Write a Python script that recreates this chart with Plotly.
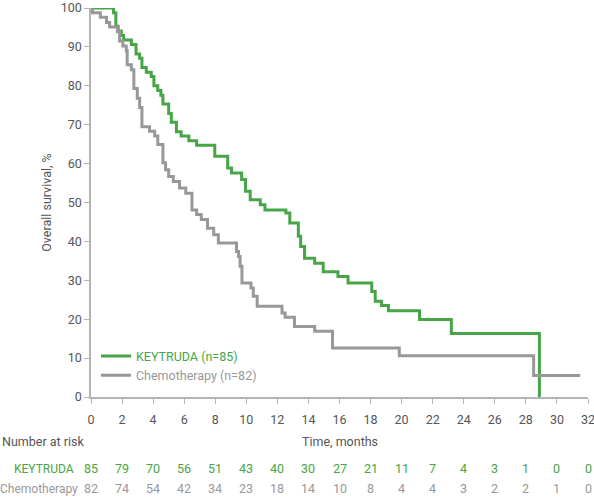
import plotly.graph_objs as go

# Kaplan-Meier curves (months, % alive)
keytruda_t = [0, 1.45, 1.6, 1.75, 1.95, 2.1, 2.6, 2.9, 3.13, 3.28, 3.56, 3.88, 4.05, 4.3,
              4.5, 4.63, 5.0, 5.17, 5.5, 5.8, 6.3, 6.8, 7.97, 8.8, 9.05, 9.7, 9.95, 10.25,
              10.9, 11.2, 12.55, 12.8, 13.35, 13.5, 13.75, 14.4, 14.95, 15.9, 16.55, 18.08,
              18.3, 18.7, 19.15, 21.15, 23.2, 28.87, 28.87]
keytruda_s = [100, 98.8, 95.3, 94.1, 92.9, 91.8, 90.6, 88.2, 87.1, 84.7, 83.5, 82.4, 80.0, 78.8,
              77.6, 75.3, 72.9, 70.6, 68.2, 67.1, 65.9, 64.7, 61.9, 58.9, 57.6, 55.9, 52.9, 50.7,
              49.4, 48.1, 47.3, 44.7, 41.3, 38.7, 35.7, 34.4, 32.2, 31.0, 29.3, 27.1,
              24.6, 23.5, 22.2, 19.9, 16.3, 16.3, 0]

chemo_t = [0, 0.1, 0.6, 1.0, 1.2, 1.7, 1.84, 2.05, 2.27, 2.33, 2.6, 2.76, 2.98, 3.13, 3.28,
           3.77, 4.1, 4.3, 4.63, 4.8, 5.0, 5.3, 5.7, 6.1, 6.5, 6.8, 7.1, 7.5, 7.9, 8.2, 9.37,
           9.5, 9.6, 9.72, 10.3, 10.45, 10.7, 12.3, 12.5, 13.1, 14.4, 15.55, 19.85, 28.5, 31.5]
chemo_s = [100, 98.8, 97.6, 96.3, 95.1, 93.9, 91.5, 90.2, 89.0, 85.4, 84.1, 79.3, 76.8, 74.4, 69.5,
           68.3, 67.1, 64.9, 60.2, 58.4, 56.7, 55.4, 53.7, 52.4, 48.1, 46.9, 45.6, 43.4, 41.7, 39.6, 37.4,
           36.1, 33.6, 29.3, 28.0, 25.9, 23.3, 21.6, 20.5, 18.1, 16.9, 12.6, 10.6, 5.5, 5.5]

risk_times = list(range(0, 33, 2))
keytruda_risk = [85, 79, 70, 56, 51, 43, 40, 30, 27, 21, 11, 7, 4, 3, 1, 0, 0]
chemo_risk = [82, 74, 54, 42, 34, 23, 18, 14, 10, 8, 4, 4, 3, 2, 2, 1, 0]

GREEN = "#46a546"
GREY = "#98989a"
TEXT = "#555555"
FONT = "Roboto, sans-serif"


def main():
    fig = go.Figure()
    fig.add_trace(go.Scatter(x=keytruda_t, y=keytruda_s, mode="lines", line_shape="hv",
                             line=dict(color=GREEN, width=3),
                             name=f"<span style='color:{GREEN}'>KEYTRUDA (n=85)</span>"))
    fig.add_trace(go.Scatter(x=chemo_t, y=chemo_s, mode="lines", line_shape="hv",
                             line=dict(color=GREY, width=3),
                             name=f"<span style='color:{GREY}'>Chemotherapy (n=82)</span>"))

    # number-at-risk table under the axis
    anns = []
    for t, k, c in zip(risk_times, keytruda_risk, chemo_risk):
        anns.append(dict(x=t, y=-0.208, xref="x", yref="paper", text=str(k), showarrow=False,
                         font=dict(color=GREEN, size=12.5, family=FONT)))
        anns.append(dict(x=t, y=-0.26, xref="x", yref="paper", text=str(c), showarrow=False,
                         font=dict(color=GREY, size=12.5, family=FONT)))
    anns.append(dict(x=-0.184, y=-0.138, xref="paper", yref="paper", text="Number at risk",
                     xanchor="left", showarrow=False, font=dict(color=TEXT, size=12.5, family=FONT)))
    anns.append(dict(x=16, y=-0.138, xref="x", yref="paper", text="Time, months",
                     showarrow=False, font=dict(color=TEXT, size=12.5, family=FONT)))
    anns.append(dict(x=-0.03, y=-0.208, xref="paper", yref="paper", text="KEYTRUDA",
                     xanchor="right", showarrow=False, font=dict(color=GREEN, size=12, family=FONT)))
    anns.append(dict(x=-0.022, y=-0.26, xref="paper", yref="paper", text="Chemotherapy",
                     xanchor="right", showarrow=False, font=dict(color=GREY, size=12, family=FONT)))

    fig.update_layout(
        width=594, height=497,
        margin=dict(l=91, r=6, t=8, b=100),
        plot_bgcolor="white", paper_bgcolor="white",
        font=dict(family=FONT, size=12, color=TEXT),
        showlegend=True,
        legend=dict(x=0.01, y=0.017, xanchor="left", yanchor="bottom",
                    bgcolor="rgba(0,0,0,0)", font=dict(size=12.5, family=FONT),
                    tracegroupgap=0, itemwidth=30),
        annotations=anns,
    )
    fig.update_xaxes(range=[0, 32], tickvals=risk_times, showgrid=False, zeroline=False,
                     showline=True, linecolor="#b4b4b4", linewidth=1.5, automargin=False,
                     ticks="outside", ticklen=5, tickcolor="#b4b4b4", ticklabelstandoff=5,
                     ticklabeloverflow="allow",
                     tickfont=dict(size=12.5, color=TEXT))
    fig.update_yaxes(range=[0, 100], dtick=10, showgrid=False, zeroline=False,
                     showline=True, linecolor="#b4b4b4", linewidth=1.5, automargin=False,
                     ticks="outside", ticklen=5, tickcolor="#b4b4b4",
                     tickfont=dict(size=12.5, color=TEXT),
                     title=dict(text="Overall survival, %", standoff=6,
                                font=dict(size=12.5, color=TEXT)))
    # page body has a default 8px margin; drop it so the figure sits at the window corner
    fig.write_html("out.html", config={"displayModeBar": False},
                   post_script="document.body.style.margin='0px';")


if __name__ == "__main__":
    main()
